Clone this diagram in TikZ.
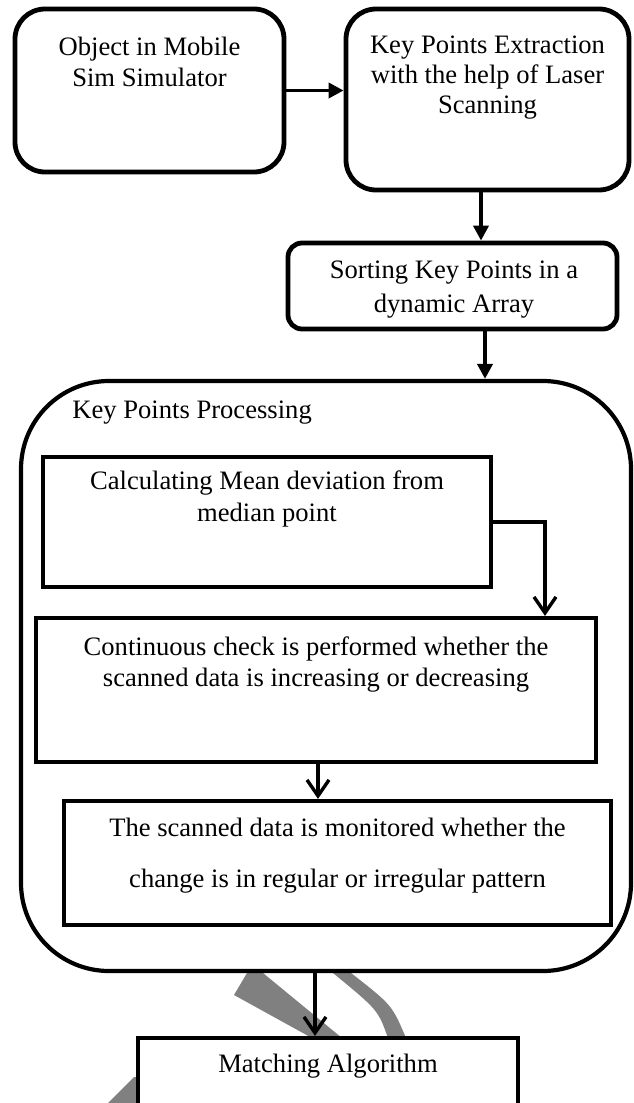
\documentclass[tikz,border=0pt]{standalone}
\usepackage{fontspec}
\setmainfont{Liberation Serif}
\usetikzlibrary{arrows.meta,calc}
\definecolor{wmgray}{RGB}{128,128,128}
\begin{document}
\begin{tikzpicture}[x=0.5pt,y=-0.5pt,
  rbox/.style={draw, line width=2.4pt, fill=white, inner sep=0pt},
  sbox/.style={draw, line width=2.1pt, fill=white, inner sep=0pt},
  txt/.style={align=center, inner sep=0pt, font=\fontsize{13.3pt}{#1}\selectfont},
  txt/.default=15.5pt,
  farr/.style={line width=1.9pt, -{Triangle[width=7.5pt,length=7.5pt]}},
  varr/.style={line width=1.7pt, -{Straight Barb[width=11pt,length=8pt]}}]
\useasboundingbox (0,0) rectangle (633,1103);
\clip (0,0) rectangle (633,1103);
% watermark remnants
\fill[wmgray] (234,995) -- (247,973) -- (263,973) -- (342,1038) -- (312,1038) -- cycle;
\fill[wmgray] (333,973) -- (351,973) .. controls (392,1005) .. (406,1038) -- (388,1038) .. controls (378,1010) .. (333,973) -- cycle;
\fill[wmgray] (108,1103) -- (134,1077) -- (140,1077) -- (140,1103) -- cycle;
% boxes
\node[rbox, rounded corners=15pt, minimum width=134.5pt, minimum height=81.5pt] (b1) at (149.5,90.5) {};
\node[rbox, rounded corners=15pt, minimum width=141.5pt, minimum height=90.5pt] (b2) at (487.5,99.5) {};
\node[rbox, rounded corners=7pt, minimum width=164.5pt, minimum height=43pt] (b3) at (452.5,286) {};
\node[rbox, line width=2.1pt, rounded corners=44pt, minimum width=305pt, minimum height=295pt] (kp) at (326,676) {};
\node[sbox, minimum width=224pt, minimum height=65pt] (b4) at (267,522) {};
\node[sbox, minimum width=280pt, minimum height=72pt] (b5) at (316,690) {};
\node[sbox, minimum width=273.5pt, minimum height=62pt] (b6) at (337.5,863) {};
\node[sbox, minimum width=190pt, minimum height=56pt] (b7) at (328,1094) {};
% texts
\node[txt] (t1) at (149.5,62) {Object in Mobile\\Sim Simulator};
\node[txt=15pt] (t2) at (487.5,78) {Key Points Extraction\\with the help of Laser\\Scanning};
\node[txt=17pt] (t3) at (454,290) {Sorting Key Points in a\\dynamic Array};
\node[txt, anchor=west] (tkp) at (72,413) {Key Points Processing};
\node[txt=16pt] (t4) at (267,499) {Calculating Mean deviation from\\median point};
\node[txt] (t5) at (316,664) {Continuous check is performed whether the\\scanned data is increasing or decreasing};
\node[txt=25.5pt] (t6) at (337.5,856) {The scanned data is monitored whether the\\change is in regular or irregular pattern};
\node[txt] (t7) at (328,1066) {Matching Algorithm};
% connectors
\coordinate (x23) at (481,0);
\coordinate (x3k) at (485,0);
\coordinate (x45) at (545,0);
\coordinate (x56) at (318,0);
\coordinate (xk7) at (315,0);
\draw[farr] (b1.east) -- (b1.east -| b2.west);
\draw[farr] (b2.south -| x23) -- (b3.north -| x23);
\draw[farr] (b3.south -| x3k) -- (kp.north -| x3k);
\draw[varr] (b4.east) -| (b5.north -| x45);
\draw[varr] (b5.south -| x56) -- (b6.north -| x56);
\draw[varr] (kp.south -| xk7) -- (b7.north -| xk7);
\end{tikzpicture}
\end{document}
